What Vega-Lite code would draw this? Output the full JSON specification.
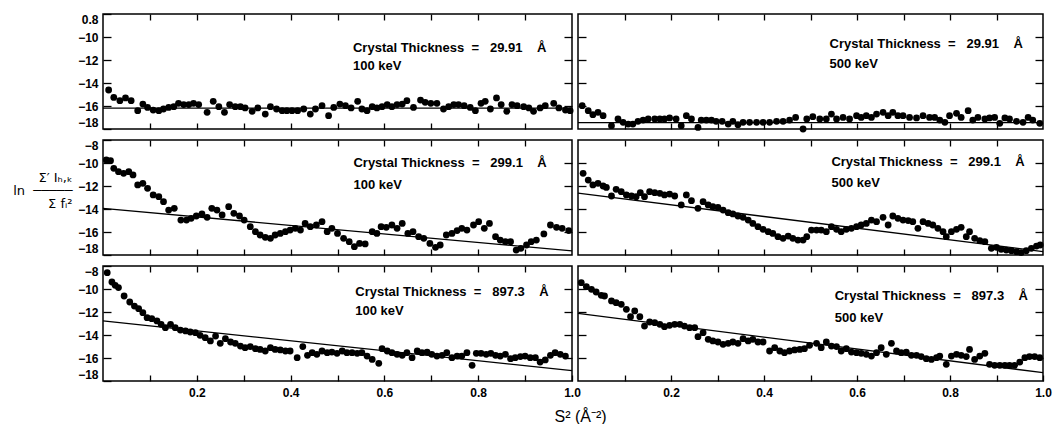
{
"$schema":"https://vega.github.io/schema/vega-lite/v6.json",
"background":"white",
"padding":{"left":12,"top":12,"right":0,"bottom":0},
"datasets":{
"TL":[{"x":0.012,"y":-14.61},{"x":0.023,"y":-15.25},{"x":0.036,"y":-15.54},{"x":0.048,"y":-15.3},{"x":0.06,"y":-15.54},{"x":0.074,"y":-16.41},{"x":0.085,"y":-15.83},{"x":0.095,"y":-16.12},{"x":0.107,"y":-16.35},{"x":0.119,"y":-16.41},{"x":0.129,"y":-16.26},{"x":0.14,"y":-16.12},{"x":0.151,"y":-16.06},{"x":0.161,"y":-15.77},{"x":0.172,"y":-15.88},{"x":0.183,"y":-15.88},{"x":0.193,"y":-15.77},{"x":0.204,"y":-15.88},{"x":0.222,"y":-16.55},{"x":0.235,"y":-15.59},{"x":0.247,"y":-16.06},{"x":0.259,"y":-16.55},{"x":0.27,"y":-15.88},{"x":0.282,"y":-16.06},{"x":0.293,"y":-16.06},{"x":0.303,"y":-16.17},{"x":0.318,"y":-16.46},{"x":0.33,"y":-16.17},{"x":0.346,"y":-16.7},{"x":0.357,"y":-16.06},{"x":0.37,"y":-16.26},{"x":0.382,"y":-16.41},{"x":0.392,"y":-16.41},{"x":0.403,"y":-16.41},{"x":0.415,"y":-16.41},{"x":0.428,"y":-16.26},{"x":0.442,"y":-16.7},{"x":0.453,"y":-16.26},{"x":0.467,"y":-15.97},{"x":0.481,"y":-16.84},{"x":0.492,"y":-16.12},{"x":0.505,"y":-15.83},{"x":0.517,"y":-15.97},{"x":0.529,"y":-16.17},{"x":0.543,"y":-15.59},{"x":0.552,"y":-16.26},{"x":0.563,"y":-16.41},{"x":0.574,"y":-16.06},{"x":0.584,"y":-16.17},{"x":0.595,"y":-16.06},{"x":0.606,"y":-15.88},{"x":0.616,"y":-16.06},{"x":0.627,"y":-15.88},{"x":0.638,"y":-15.83},{"x":0.648,"y":-15.54},{"x":0.662,"y":-16.12},{"x":0.677,"y":-15.48},{"x":0.687,"y":-15.68},{"x":0.699,"y":-15.77},{"x":0.712,"y":-15.77},{"x":0.726,"y":-16.26},{"x":0.737,"y":-16.06},{"x":0.748,"y":-15.88},{"x":0.758,"y":-15.88},{"x":0.77,"y":-15.97},{"x":0.783,"y":-16.12},{"x":0.794,"y":-16.41},{"x":0.806,"y":-15.77},{"x":0.815,"y":-15.59},{"x":0.826,"y":-16.26},{"x":0.839,"y":-15.3},{"x":0.849,"y":-15.88},{"x":0.861,"y":-16.46},{"x":0.872,"y":-15.88},{"x":0.883,"y":-15.97},{"x":0.897,"y":-16.06},{"x":0.908,"y":-16.17},{"x":0.918,"y":-16.46},{"x":0.932,"y":-16.17},{"x":0.943,"y":-15.97},{"x":0.961,"y":-15.77},{"x":0.972,"y":-16.17},{"x":0.986,"y":-16.35},{"x":0.996,"y":-16.41}],
"TR":[{"x":0.009,"y":-15.97},{"x":0.022,"y":-16.41},{"x":0.032,"y":-16.75},{"x":0.043,"y":-16.55},{"x":0.054,"y":-16.84},{"x":0.072,"y":-17.71},{"x":0.086,"y":-17.13},{"x":0.097,"y":-17.42},{"x":0.108,"y":-17.57},{"x":0.118,"y":-17.57},{"x":0.129,"y":-17.33},{"x":0.14,"y":-17.22},{"x":0.151,"y":-17.13},{"x":0.165,"y":-17.13},{"x":0.176,"y":-17.13},{"x":0.186,"y":-17.13},{"x":0.197,"y":-17.04},{"x":0.211,"y":-17.13},{"x":0.222,"y":-17.71},{"x":0.233,"y":-16.84},{"x":0.244,"y":-17.13},{"x":0.258,"y":-17.86},{"x":0.265,"y":-17.22},{"x":0.276,"y":-17.22},{"x":0.287,"y":-17.22},{"x":0.297,"y":-17.33},{"x":0.31,"y":-17.33},{"x":0.323,"y":-17.57},{"x":0.333,"y":-17.33},{"x":0.344,"y":-17.62},{"x":0.355,"y":-17.42},{"x":0.369,"y":-17.42},{"x":0.384,"y":-17.42},{"x":0.398,"y":-17.42},{"x":0.412,"y":-17.42},{"x":0.427,"y":-17.33},{"x":0.441,"y":-17.33},{"x":0.455,"y":-17.22},{"x":0.468,"y":-16.99},{"x":0.484,"y":-18.0},{"x":0.492,"y":-17.13},{"x":0.505,"y":-16.93},{"x":0.52,"y":-17.13},{"x":0.534,"y":-17.13},{"x":0.545,"y":-16.7},{"x":0.556,"y":-17.13},{"x":0.57,"y":-16.99},{"x":0.584,"y":-17.13},{"x":0.599,"y":-16.84},{"x":0.609,"y":-16.99},{"x":0.62,"y":-16.84},{"x":0.631,"y":-16.99},{"x":0.642,"y":-16.7},{"x":0.656,"y":-16.55},{"x":0.667,"y":-16.84},{"x":0.677,"y":-16.55},{"x":0.688,"y":-16.84},{"x":0.699,"y":-16.84},{"x":0.713,"y":-16.99},{"x":0.728,"y":-17.04},{"x":0.742,"y":-16.84},{"x":0.756,"y":-16.99},{"x":0.767,"y":-16.99},{"x":0.778,"y":-17.22},{"x":0.789,"y":-17.42},{"x":0.799,"y":-16.84},{"x":0.814,"y":-16.64},{"x":0.824,"y":-16.99},{"x":0.839,"y":-16.41},{"x":0.849,"y":-17.22},{"x":0.86,"y":-16.99},{"x":0.875,"y":-17.13},{"x":0.885,"y":-17.04},{"x":0.896,"y":-16.99},{"x":0.907,"y":-17.51},{"x":0.918,"y":-17.04},{"x":0.928,"y":-17.13},{"x":0.943,"y":-17.33},{"x":0.957,"y":-17.42},{"x":0.968,"y":-16.99},{"x":0.978,"y":-17.22},{"x":0.993,"y":-17.51}],
"ML":[{"x":0.007,"y":-9.74},{"x":0.016,"y":-9.8},{"x":0.023,"y":-10.46},{"x":0.033,"y":-10.75},{"x":0.044,"y":-10.9},{"x":0.055,"y":-10.75},{"x":0.064,"y":-11.04},{"x":0.074,"y":-11.91},{"x":0.085,"y":-11.77},{"x":0.095,"y":-12.2},{"x":0.107,"y":-12.78},{"x":0.119,"y":-12.93},{"x":0.129,"y":-13.36},{"x":0.14,"y":-14.09},{"x":0.152,"y":-13.94},{"x":0.166,"y":-14.96},{"x":0.178,"y":-14.96},{"x":0.188,"y":-14.81},{"x":0.199,"y":-14.61},{"x":0.211,"y":-14.43},{"x":0.222,"y":-14.72},{"x":0.232,"y":-13.94},{"x":0.243,"y":-14.09},{"x":0.254,"y":-14.52},{"x":0.268,"y":-13.8},{"x":0.279,"y":-14.38},{"x":0.291,"y":-14.61},{"x":0.301,"y":-14.96},{"x":0.314,"y":-15.54},{"x":0.325,"y":-15.97},{"x":0.335,"y":-16.26},{"x":0.346,"y":-16.46},{"x":0.357,"y":-16.55},{"x":0.367,"y":-16.26},{"x":0.378,"y":-16.12},{"x":0.389,"y":-15.97},{"x":0.399,"y":-15.83},{"x":0.41,"y":-15.68},{"x":0.421,"y":-15.83},{"x":0.431,"y":-15.25},{"x":0.442,"y":-15.54},{"x":0.455,"y":-15.39},{"x":0.467,"y":-15.1},{"x":0.478,"y":-15.97},{"x":0.488,"y":-15.68},{"x":0.5,"y":-16.12},{"x":0.513,"y":-16.55},{"x":0.525,"y":-16.84},{"x":0.536,"y":-17.28},{"x":0.547,"y":-16.99},{"x":0.559,"y":-17.04},{"x":0.574,"y":-15.97},{"x":0.584,"y":-16.12},{"x":0.593,"y":-15.54},{"x":0.604,"y":-15.59},{"x":0.616,"y":-15.39},{"x":0.627,"y":-15.68},{"x":0.638,"y":-15.25},{"x":0.65,"y":-16.12},{"x":0.661,"y":-15.97},{"x":0.673,"y":-16.41},{"x":0.684,"y":-16.55},{"x":0.697,"y":-16.99},{"x":0.709,"y":-17.33},{"x":0.719,"y":-17.13},{"x":0.732,"y":-16.26},{"x":0.744,"y":-16.12},{"x":0.755,"y":-15.88},{"x":0.765,"y":-15.68},{"x":0.776,"y":-15.83},{"x":0.79,"y":-15.39},{"x":0.801,"y":-15.1},{"x":0.813,"y":-15.68},{"x":0.824,"y":-15.25},{"x":0.837,"y":-16.41},{"x":0.847,"y":-16.7},{"x":0.858,"y":-16.84},{"x":0.869,"y":-16.84},{"x":0.881,"y":-17.57},{"x":0.891,"y":-17.42},{"x":0.903,"y":-17.13},{"x":0.913,"y":-16.84},{"x":0.924,"y":-16.7},{"x":0.94,"y":-16.17},{"x":0.954,"y":-15.39},{"x":0.967,"y":-15.59},{"x":0.979,"y":-15.68},{"x":0.993,"y":-15.88}],
"MR":[{"x":0.011,"y":-10.9},{"x":0.022,"y":-11.48},{"x":0.032,"y":-11.91},{"x":0.043,"y":-11.77},{"x":0.054,"y":-12.0},{"x":0.061,"y":-12.12},{"x":0.072,"y":-12.87},{"x":0.082,"y":-12.29},{"x":0.093,"y":-12.49},{"x":0.104,"y":-12.78},{"x":0.115,"y":-12.87},{"x":0.125,"y":-12.93},{"x":0.134,"y":-12.58},{"x":0.143,"y":-12.93},{"x":0.154,"y":-12.49},{"x":0.165,"y":-12.58},{"x":0.176,"y":-12.64},{"x":0.186,"y":-12.78},{"x":0.197,"y":-12.7},{"x":0.208,"y":-12.87},{"x":0.222,"y":-13.65},{"x":0.233,"y":-12.78},{"x":0.244,"y":-13.28},{"x":0.258,"y":-13.94},{"x":0.269,"y":-13.36},{"x":0.28,"y":-13.65},{"x":0.29,"y":-13.8},{"x":0.301,"y":-13.86},{"x":0.312,"y":-14.09},{"x":0.323,"y":-14.32},{"x":0.333,"y":-14.43},{"x":0.344,"y":-14.61},{"x":0.355,"y":-14.72},{"x":0.366,"y":-14.96},{"x":0.376,"y":-15.25},{"x":0.387,"y":-15.54},{"x":0.398,"y":-15.77},{"x":0.409,"y":-15.97},{"x":0.419,"y":-16.12},{"x":0.43,"y":-16.41},{"x":0.441,"y":-16.55},{"x":0.452,"y":-16.35},{"x":0.462,"y":-16.55},{"x":0.473,"y":-16.7},{"x":0.484,"y":-16.7},{"x":0.492,"y":-16.41},{"x":0.502,"y":-15.83},{"x":0.513,"y":-15.83},{"x":0.523,"y":-15.83},{"x":0.534,"y":-15.97},{"x":0.545,"y":-15.54},{"x":0.556,"y":-15.77},{"x":0.566,"y":-15.97},{"x":0.577,"y":-15.77},{"x":0.588,"y":-15.68},{"x":0.599,"y":-15.54},{"x":0.609,"y":-15.39},{"x":0.62,"y":-15.25},{"x":0.631,"y":-14.96},{"x":0.642,"y":-15.1},{"x":0.656,"y":-14.72},{"x":0.667,"y":-15.39},{"x":0.677,"y":-14.61},{"x":0.688,"y":-14.81},{"x":0.699,"y":-14.96},{"x":0.71,"y":-15.01},{"x":0.72,"y":-15.1},{"x":0.731,"y":-15.68},{"x":0.742,"y":-15.1},{"x":0.753,"y":-15.25},{"x":0.763,"y":-15.39},{"x":0.774,"y":-15.68},{"x":0.785,"y":-15.97},{"x":0.792,"y":-16.41},{"x":0.803,"y":-15.97},{"x":0.814,"y":-15.77},{"x":0.824,"y":-15.59},{"x":0.835,"y":-16.41},{"x":0.842,"y":-15.97},{"x":0.853,"y":-16.55},{"x":0.864,"y":-16.75},{"x":0.875,"y":-16.84},{"x":0.889,"y":-17.42},{"x":0.9,"y":-17.33},{"x":0.91,"y":-17.51},{"x":0.921,"y":-17.57},{"x":0.932,"y":-17.62},{"x":0.943,"y":-17.71},{"x":0.953,"y":-17.8},{"x":0.964,"y":-17.62},{"x":0.975,"y":-17.42},{"x":0.986,"y":-17.22},{"x":0.994,"y":-17.13}],
"BL":[{"x":0.009,"y":-8.58},{"x":0.019,"y":-9.39},{"x":0.026,"y":-9.68},{"x":0.033,"y":-9.88},{"x":0.045,"y":-10.61},{"x":0.057,"y":-11.13},{"x":0.067,"y":-11.48},{"x":0.076,"y":-11.71},{"x":0.085,"y":-12.06},{"x":0.094,"y":-12.49},{"x":0.104,"y":-12.58},{"x":0.115,"y":-12.78},{"x":0.124,"y":-13.07},{"x":0.133,"y":-13.36},{"x":0.144,"y":-13.07},{"x":0.154,"y":-13.36},{"x":0.165,"y":-13.57},{"x":0.176,"y":-13.65},{"x":0.186,"y":-13.74},{"x":0.197,"y":-13.8},{"x":0.207,"y":-14.03},{"x":0.218,"y":-14.23},{"x":0.229,"y":-14.52},{"x":0.24,"y":-14.09},{"x":0.25,"y":-14.72},{"x":0.261,"y":-14.32},{"x":0.272,"y":-14.61},{"x":0.282,"y":-14.72},{"x":0.293,"y":-14.96},{"x":0.303,"y":-15.1},{"x":0.314,"y":-15.01},{"x":0.325,"y":-15.19},{"x":0.335,"y":-15.25},{"x":0.346,"y":-15.39},{"x":0.357,"y":-15.1},{"x":0.367,"y":-15.25},{"x":0.378,"y":-15.3},{"x":0.389,"y":-15.39},{"x":0.399,"y":-15.39},{"x":0.414,"y":-15.97},{"x":0.426,"y":-15.01},{"x":0.436,"y":-15.77},{"x":0.446,"y":-15.54},{"x":0.456,"y":-15.68},{"x":0.467,"y":-15.39},{"x":0.478,"y":-15.54},{"x":0.488,"y":-15.48},{"x":0.499,"y":-15.59},{"x":0.51,"y":-15.39},{"x":0.52,"y":-15.54},{"x":0.531,"y":-15.54},{"x":0.542,"y":-15.59},{"x":0.552,"y":-15.54},{"x":0.563,"y":-15.83},{"x":0.574,"y":-16.12},{"x":0.588,"y":-16.46},{"x":0.595,"y":-15.19},{"x":0.606,"y":-15.39},{"x":0.616,"y":-15.54},{"x":0.627,"y":-15.68},{"x":0.638,"y":-15.77},{"x":0.648,"y":-15.54},{"x":0.659,"y":-15.97},{"x":0.67,"y":-15.39},{"x":0.68,"y":-15.54},{"x":0.691,"y":-15.48},{"x":0.701,"y":-15.68},{"x":0.712,"y":-15.83},{"x":0.723,"y":-15.77},{"x":0.733,"y":-15.54},{"x":0.744,"y":-15.97},{"x":0.755,"y":-15.83},{"x":0.765,"y":-15.83},{"x":0.776,"y":-15.54},{"x":0.787,"y":-16.64},{"x":0.796,"y":-15.59},{"x":0.806,"y":-15.59},{"x":0.817,"y":-15.68},{"x":0.827,"y":-15.59},{"x":0.837,"y":-15.77},{"x":0.847,"y":-15.83},{"x":0.858,"y":-15.68},{"x":0.869,"y":-16.06},{"x":0.879,"y":-15.97},{"x":0.89,"y":-15.88},{"x":0.9,"y":-15.83},{"x":0.911,"y":-15.97},{"x":0.922,"y":-15.97},{"x":0.932,"y":-16.35},{"x":0.943,"y":-16.17},{"x":0.954,"y":-15.77},{"x":0.964,"y":-15.54},{"x":0.975,"y":-15.68},{"x":0.986,"y":-15.83}],
"BR":[{"x":0.007,"y":-9.45},{"x":0.018,"y":-9.8},{"x":0.029,"y":-10.03},{"x":0.039,"y":-10.26},{"x":0.05,"y":-10.55},{"x":0.057,"y":-10.61},{"x":0.072,"y":-11.04},{"x":0.082,"y":-11.19},{"x":0.093,"y":-11.33},{"x":0.104,"y":-11.77},{"x":0.113,"y":-12.41},{"x":0.122,"y":-11.91},{"x":0.133,"y":-12.41},{"x":0.143,"y":-13.22},{"x":0.154,"y":-12.87},{"x":0.165,"y":-12.93},{"x":0.176,"y":-13.07},{"x":0.186,"y":-13.28},{"x":0.197,"y":-13.16},{"x":0.208,"y":-13.07},{"x":0.219,"y":-13.07},{"x":0.229,"y":-13.22},{"x":0.24,"y":-13.36},{"x":0.251,"y":-13.36},{"x":0.258,"y":-14.15},{"x":0.269,"y":-13.8},{"x":0.28,"y":-14.38},{"x":0.29,"y":-14.52},{"x":0.301,"y":-14.61},{"x":0.312,"y":-14.81},{"x":0.323,"y":-14.72},{"x":0.333,"y":-14.61},{"x":0.344,"y":-14.72},{"x":0.355,"y":-14.32},{"x":0.366,"y":-14.52},{"x":0.376,"y":-14.38},{"x":0.387,"y":-14.61},{"x":0.398,"y":-14.61},{"x":0.412,"y":-15.39},{"x":0.423,"y":-15.1},{"x":0.434,"y":-15.39},{"x":0.444,"y":-15.54},{"x":0.455,"y":-15.39},{"x":0.466,"y":-15.3},{"x":0.477,"y":-15.25},{"x":0.487,"y":-15.19},{"x":0.498,"y":-14.9},{"x":0.513,"y":-14.72},{"x":0.523,"y":-15.1},{"x":0.534,"y":-14.61},{"x":0.545,"y":-14.96},{"x":0.556,"y":-15.01},{"x":0.566,"y":-15.39},{"x":0.577,"y":-15.19},{"x":0.588,"y":-15.48},{"x":0.599,"y":-15.54},{"x":0.609,"y":-15.59},{"x":0.62,"y":-15.68},{"x":0.631,"y":-15.83},{"x":0.642,"y":-15.54},{"x":0.652,"y":-15.1},{"x":0.663,"y":-15.68},{"x":0.674,"y":-14.72},{"x":0.685,"y":-15.39},{"x":0.695,"y":-15.54},{"x":0.706,"y":-15.48},{"x":0.717,"y":-15.77},{"x":0.728,"y":-15.77},{"x":0.738,"y":-15.88},{"x":0.749,"y":-16.06},{"x":0.76,"y":-16.12},{"x":0.771,"y":-15.97},{"x":0.778,"y":-15.83},{"x":0.792,"y":-16.55},{"x":0.803,"y":-15.83},{"x":0.814,"y":-15.68},{"x":0.824,"y":-15.77},{"x":0.835,"y":-15.88},{"x":0.842,"y":-15.25},{"x":0.853,"y":-16.12},{"x":0.864,"y":-15.83},{"x":0.875,"y":-15.59},{"x":0.885,"y":-16.55},{"x":0.896,"y":-16.64},{"x":0.907,"y":-16.64},{"x":0.918,"y":-16.64},{"x":0.928,"y":-16.64},{"x":0.939,"y":-16.64},{"x":0.95,"y":-16.35},{"x":0.961,"y":-15.97},{"x":0.971,"y":-15.88},{"x":0.982,"y":-15.88},{"x":0.993,"y":-15.97}],
"fits":[{"p":"TL","x":0,"y":-16.18},{"p":"TL","x":1,"y":-16.18},{"p":"TR","x":0,"y":-17.45},{"p":"TR","x":1,"y":-17.45},{"p":"ML","x":0,"y":-13.94},{"p":"ML","x":1,"y":-17.65},{"p":"MR","x":0,"y":-12.62},{"p":"MR","x":1,"y":-17.7},{"p":"BL","x":0,"y":-12.78},{"p":"BL","x":1,"y":-17.1},{"p":"BR","x":0,"y":-12.12},{"p":"BR","x":1,"y":-17.28}],
"labels":[{"p":"TL","x":0.533,"y":-10.95,"t":"Crystal Thickness\u00a0 =\u00a0\u00a0 29.91\u00a0\u00a0\u00a0 Å"},{"p":"TL","x":0.533,"y":-12.5,"t":"100 keV"},{"p":"TR","x":0.541,"y":-10.6,"t":"Crystal Thickness\u00a0 =\u00a0\u00a0 29.91\u00a0\u00a0\u00a0 Å"},{"p":"TR","x":0.541,"y":-12.35,"t":"500 keV"},{"p":"ML","x":0.534,"y":-10.03,"t":"Crystal Thickness\u00a0 =\u00a0\u00a0 299.1\u00a0\u00a0\u00a0 Å"},{"p":"ML","x":0.534,"y":-11.91,"t":"100 keV"},{"p":"MR","x":0.545,"y":-9.88,"t":"Crystal Thickness\u00a0 =\u00a0\u00a0 299.1\u00a0\u00a0\u00a0 Å"},{"p":"MR","x":0.545,"y":-11.71,"t":"500 keV"},{"p":"BL","x":0.538,"y":-10.26,"t":"Crystal Thickness\u00a0 =\u00a0\u00a0 897.3\u00a0\u00a0\u00a0 Å"},{"p":"BL","x":0.538,"y":-11.91,"t":"100 keV"},{"p":"BR","x":0.552,"y":-10.61,"t":"Crystal Thickness\u00a0 =\u00a0\u00a0 897.3\u00a0\u00a0\u00a0 Å"},{"p":"BR","x":0.552,"y":-12.49,"t":"500 keV"}]
},
"columns":2,
"spacing":{"row":11,"column":6},
"bounds":"flush",
"concat":[
{"width":469,"height":115,"layer":[
 {"data":{"name":"TL"},"mark":{"type":"circle","size":46,"color":"black","opacity":1},"encoding":{
  "x":{"field":"x","type":"quantitative","scale":{"domain":[0,1],"nice":false,"zero":false},"axis":{"orient":"bottom","values":[0.1,0.2,0.3,0.4,0.5,0.6,0.7,0.8,0.9],"tickSize":-6,"labels":false,"title":null}},
  "y":{"field":"y","type":"quantitative","scale":{"domain":[-18,-8],"nice":false,"zero":false},"axis":{"orient":"left","values":[-18,-16,-14,-12,-10,-8],"tickSize":-8,"labelPadding":13,"labelFlush":true,"labelExpr":"datum.value == -8 ? '0.8' : datum.label","title":null}}}},
 {"data":{"name":"fits"},"transform":[{"filter":"datum.p === 'TL'"}],"mark":{"type":"line","color":"black","strokeWidth":1.3},"encoding":{
  "x":{"field":"x","type":"quantitative","axis":{"orient":"top","values":[0.1,0.2,0.3,0.4,0.5,0.6,0.7,0.8,0.9],"tickSize":-6,"labels":false,"title":null}},
  "y":{"field":"y","type":"quantitative","axis":{"orient":"right","values":[-16,-14,-12,-10],"tickSize":-8,"labels":false,"title":null}}}},
 {"data":{"name":"labels"},"transform":[{"filter":"datum.p === 'TL'"}],"mark":{"type":"text","align":"left","baseline":"middle","fontSize":13,"fontWeight":"bold","font":"Liberation Sans","color":"black"},"encoding":{
  "x":{"field":"x","type":"quantitative","axis":null},"y":{"field":"y","type":"quantitative","axis":null},"text":{"field":"t"}}}
 ],"resolve":{"axis":{"x":"independent","y":"independent"}}},
{"width":465,"height":115,"layer":[
 {"data":{"name":"TR"},"mark":{"type":"circle","size":46,"color":"black","opacity":1},"encoding":{
  "x":{"field":"x","type":"quantitative","scale":{"domain":[0,1],"nice":false,"zero":false},"axis":{"orient":"bottom","values":[0.1,0.2,0.3,0.4,0.5,0.6,0.7,0.8,0.9],"tickSize":-6,"labels":false,"title":null}},
  "y":{"field":"y","type":"quantitative","scale":{"domain":[-18,-8],"nice":false,"zero":false},"axis":{"orient":"left","values":[-16,-14,-12,-10],"tickSize":-8,"labels":false,"title":null}}}},
 {"data":{"name":"fits"},"transform":[{"filter":"datum.p === 'TR'"}],"mark":{"type":"line","color":"black","strokeWidth":1.3},"encoding":{
  "x":{"field":"x","type":"quantitative","axis":{"orient":"top","values":[0.1,0.2,0.3,0.4,0.5,0.6,0.7,0.8,0.9],"tickSize":-6,"labels":false,"title":null}},
  "y":{"field":"y","type":"quantitative","axis":{"orient":"right","values":[-16,-14,-12,-10],"tickSize":-8,"labels":false,"title":null}}}},
 {"data":{"name":"labels"},"transform":[{"filter":"datum.p === 'TR'"}],"mark":{"type":"text","align":"left","baseline":"middle","fontSize":13,"fontWeight":"bold","font":"Liberation Sans","color":"black"},"encoding":{
  "x":{"field":"x","type":"quantitative","axis":null},"y":{"field":"y","type":"quantitative","axis":null},"text":{"field":"t"}}}
 ],"resolve":{"axis":{"x":"independent","y":"independent"}}},
{"width":469,"height":115,"layer":[
 {"data":{"name":"ML"},"mark":{"type":"circle","size":46,"color":"black","opacity":1},"encoding":{
  "x":{"field":"x","type":"quantitative","scale":{"domain":[0,1],"nice":false,"zero":false},"axis":{"orient":"bottom","values":[0.1,0.2,0.3,0.4,0.5,0.6,0.7,0.8,0.9],"tickSize":-6,"labels":false,"title":null}},
  "y":{"field":"y","type":"quantitative","scale":{"domain":[-18,-8],"nice":false,"zero":false},"axis":{"orient":"left","values":[-18,-16,-14,-12,-10,-8],"tickSize":-8,"labelPadding":13,"labelFlush":true,
   "title":["Σ′ Iₕ,ₖ","ln\u00a0\u00a0─────","Σ fᵢ²\u00a0\u00a0"],"titleAngle":0,"titleAlign":"right","titleBaseline":"middle","titleX":-31,"titleY":37,"titleFont":"DejaVu Sans","titleFontSize":13,"titleLineHeight":13,"titleFontWeight":"normal"}}}},
 {"data":{"name":"fits"},"transform":[{"filter":"datum.p === 'ML'"}],"mark":{"type":"line","color":"black","strokeWidth":1.3},"encoding":{
  "x":{"field":"x","type":"quantitative","axis":{"orient":"top","values":[0.1,0.2,0.3,0.4,0.5,0.6,0.7,0.8,0.9],"tickSize":-6,"labels":false,"title":null}},
  "y":{"field":"y","type":"quantitative","axis":{"orient":"right","values":[-16,-14,-12,-10],"tickSize":-8,"labels":false,"title":null}}}},
 {"data":{"name":"labels"},"transform":[{"filter":"datum.p === 'ML'"}],"mark":{"type":"text","align":"left","baseline":"middle","fontSize":13,"fontWeight":"bold","font":"Liberation Sans","color":"black"},"encoding":{
  "x":{"field":"x","type":"quantitative","axis":null},"y":{"field":"y","type":"quantitative","axis":null},"text":{"field":"t"}}}
 ],"resolve":{"axis":{"x":"independent","y":"independent"}}},
{"width":465,"height":115,"layer":[
 {"data":{"name":"MR"},"mark":{"type":"circle","size":46,"color":"black","opacity":1},"encoding":{
  "x":{"field":"x","type":"quantitative","scale":{"domain":[0,1],"nice":false,"zero":false},"axis":{"orient":"bottom","values":[0.1,0.2,0.3,0.4,0.5,0.6,0.7,0.8,0.9],"tickSize":-6,"labels":false,"title":null}},
  "y":{"field":"y","type":"quantitative","scale":{"domain":[-18,-8],"nice":false,"zero":false},"axis":{"orient":"left","values":[-16,-14,-12,-10],"tickSize":-8,"labels":false,"title":null}}}},
 {"data":{"name":"fits"},"transform":[{"filter":"datum.p === 'MR'"}],"mark":{"type":"line","color":"black","strokeWidth":1.3},"encoding":{
  "x":{"field":"x","type":"quantitative","axis":{"orient":"top","values":[0.1,0.2,0.3,0.4,0.5,0.6,0.7,0.8,0.9],"tickSize":-6,"labels":false,"title":null}},
  "y":{"field":"y","type":"quantitative","axis":{"orient":"right","values":[-16,-14,-12,-10],"tickSize":-8,"labels":false,"title":null}}}},
 {"data":{"name":"labels"},"transform":[{"filter":"datum.p === 'MR'"}],"mark":{"type":"text","align":"left","baseline":"middle","fontSize":13,"fontWeight":"bold","font":"Liberation Sans","color":"black"},"encoding":{
  "x":{"field":"x","type":"quantitative","axis":null},"y":{"field":"y","type":"quantitative","axis":null},"text":{"field":"t"}}}
 ],"resolve":{"axis":{"x":"independent","y":"independent"}}},
{"width":469,"height":115,"layer":[
 {"data":{"name":"BL"},"mark":{"type":"circle","size":46,"color":"black","opacity":1},"encoding":{
  "x":{"field":"x","type":"quantitative","scale":{"domain":[0,1],"nice":false,"zero":false},"axis":{"orient":"bottom","values":[0.1,0.2,0.3,0.4,0.5,0.6,0.7,0.8,0.9,1.0],"tickSize":-6,"labelPadding":12,
   "labelExpr":"indexof(['0.2','0.4','0.6','0.8','1.0'], format(datum.value, '.1f')) >= 0 ? format(datum.value, '.1f') : ''",
   "title":"S² (Å⁻²)","titleX":477,"titleY":40,"titleAlign":"center","titleBaseline":"alphabetic","titleFont":"Liberation Sans","titleFontSize":16,"titleFontWeight":"normal"}},
  "y":{"field":"y","type":"quantitative","scale":{"domain":[-18,-8],"nice":false,"zero":false},"axis":{"orient":"left","values":[-18,-16,-14,-12,-10,-8],"tickSize":-8,"labelPadding":13,"labelFlush":true,"title":null}}}},
 {"data":{"name":"fits"},"transform":[{"filter":"datum.p === 'BL'"}],"mark":{"type":"line","color":"black","strokeWidth":1.3},"encoding":{
  "x":{"field":"x","type":"quantitative","axis":{"orient":"top","values":[0.1,0.2,0.3,0.4,0.5,0.6,0.7,0.8,0.9],"tickSize":-6,"labels":false,"title":null}},
  "y":{"field":"y","type":"quantitative","axis":{"orient":"right","values":[-16,-14,-12,-10],"tickSize":-8,"labels":false,"title":null}}}},
 {"data":{"name":"labels"},"transform":[{"filter":"datum.p === 'BL'"}],"mark":{"type":"text","align":"left","baseline":"middle","fontSize":13,"fontWeight":"bold","font":"Liberation Sans","color":"black"},"encoding":{
  "x":{"field":"x","type":"quantitative","axis":null},"y":{"field":"y","type":"quantitative","axis":null},"text":{"field":"t"}}}
 ],"resolve":{"axis":{"x":"independent","y":"independent"}}},
{"width":465,"height":115,"layer":[
 {"data":{"name":"BR"},"mark":{"type":"circle","size":46,"color":"black","opacity":1},"encoding":{
  "x":{"field":"x","type":"quantitative","scale":{"domain":[0,1],"nice":false,"zero":false},"axis":{"orient":"bottom","values":[0.1,0.2,0.3,0.4,0.5,0.6,0.7,0.8,0.9,1.0],"tickSize":-6,"labelPadding":12,
   "labelExpr":"indexof(['0.2','0.4','0.6','0.8','1.0'], format(datum.value, '.1f')) >= 0 ? format(datum.value, '.1f') : ''","title":null}},
  "y":{"field":"y","type":"quantitative","scale":{"domain":[-18,-8],"nice":false,"zero":false},"axis":{"orient":"left","values":[-16,-14,-12,-10],"tickSize":-8,"labels":false,"title":null}}}},
 {"data":{"name":"fits"},"transform":[{"filter":"datum.p === 'BR'"}],"mark":{"type":"line","color":"black","strokeWidth":1.3},"encoding":{
  "x":{"field":"x","type":"quantitative","axis":{"orient":"top","values":[0.1,0.2,0.3,0.4,0.5,0.6,0.7,0.8,0.9],"tickSize":-6,"labels":false,"title":null}},
  "y":{"field":"y","type":"quantitative","axis":{"orient":"right","values":[-16,-14,-12,-10],"tickSize":-8,"labels":false,"title":null}}}},
 {"data":{"name":"labels"},"transform":[{"filter":"datum.p === 'BR'"}],"mark":{"type":"text","align":"left","baseline":"middle","fontSize":13,"fontWeight":"bold","font":"Liberation Sans","color":"black"},"encoding":{
  "x":{"field":"x","type":"quantitative","axis":null},"y":{"field":"y","type":"quantitative","axis":null},"text":{"field":"t"}}}
 ],"resolve":{"axis":{"x":"independent","y":"independent"}}}
],
"config":{
 "font":"Liberation Sans",
 "view":{"stroke":"black","strokeWidth":1.5},
 "axis":{"domain":false,"grid":false,"tickColor":"black","tickWidth":1.3,"labelColor":"black","labelFont":"Liberation Sans","labelFontSize":12,"labelFontWeight":"bold","labelOverlap":false,"labelFlush":false,"titleColor":"black"}
}
}
